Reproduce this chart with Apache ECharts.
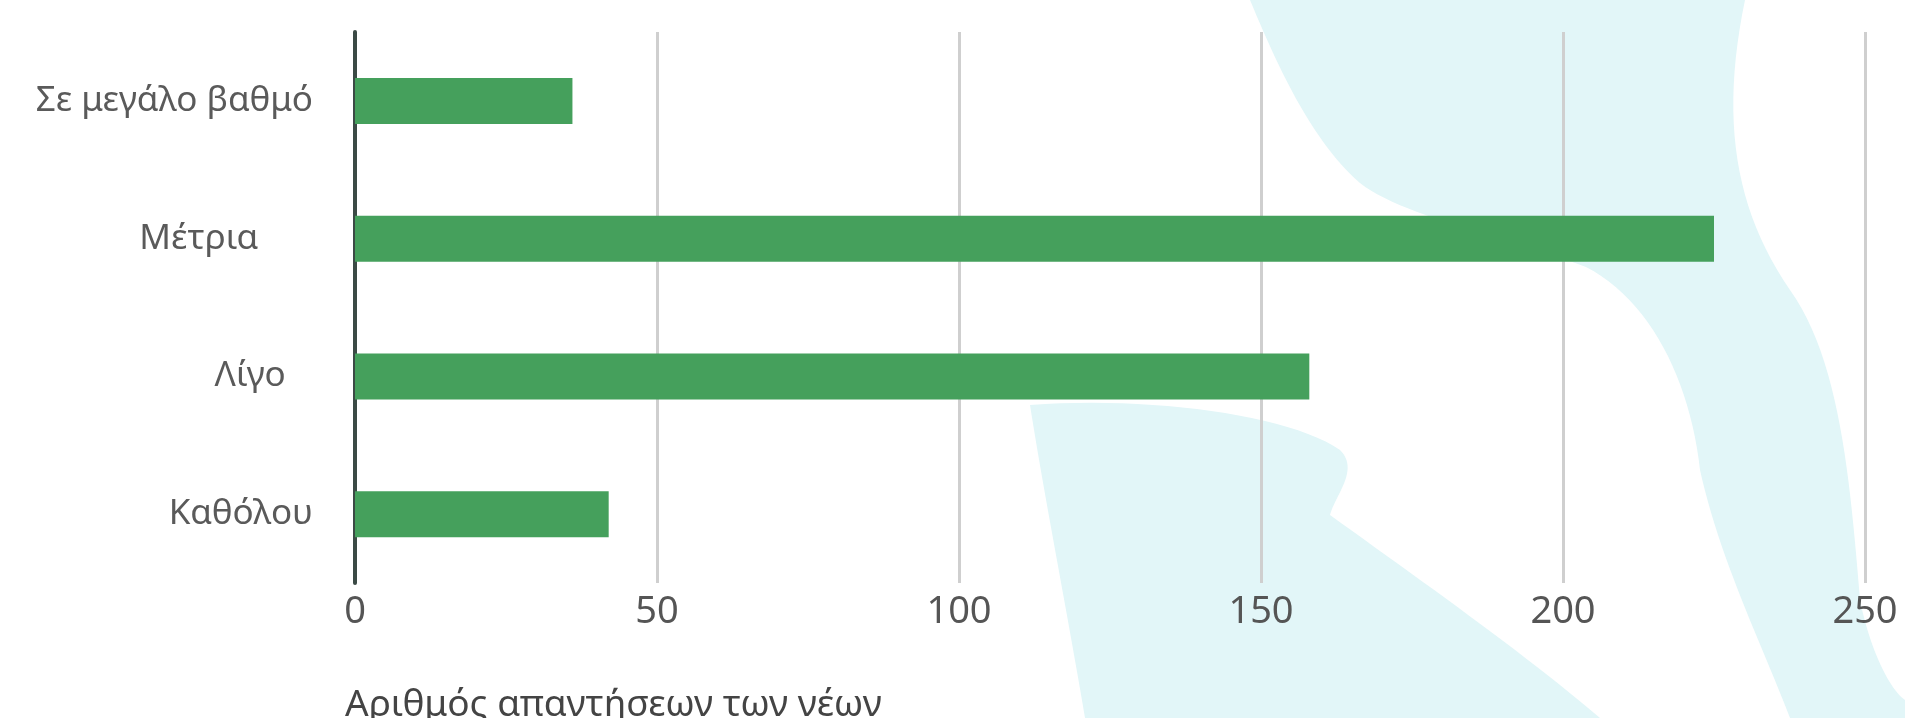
<!DOCTYPE html>
<html>
<head>
<meta charset="utf-8">
<script src="https://cdn.jsdelivr.net/npm/echarts@6/dist/echarts.min.js"></script>
<style>
  html, body { margin: 0; padding: 0; background: #ffffff; }
  #chart { width: 1905px; height: 718px; }
</style>
</head>
<body>
<div id="chart"></div>
<script>
// Answers per category (top to bottom)
const categories = ['Σε μεγάλο βαθμό', 'Μέτρια      ', 'Λίγο   ', 'Καθόλου'];
const counts = [36, 225, 158, 42];
const xTicks = [0, 50, 100, 150, 200, 250];
const axisTitle = 'Αριθμός απαντήσεων των νέων';

const FONT = 'Noto Sans';
const chart = echarts.init(document.getElementById('chart'), null, { renderer: 'canvas' });

// Soft decorative background swooshes, described as simple path commands
// and flattened to polygons.
const swoosh = '#e2f6f8';
const bgShapes = [
  [[1250, 0], ['L', 1745, 0], ['C', 1720, 120, 1735, 210, 1790, 290], ['C', 1840, 360, 1850, 480, 1860, 600],
   ['C', 1870, 650, 1890, 690, 1905, 700], ['L', 1905, 718], ['L', 1790, 718],
   ['C', 1760, 640, 1720, 560, 1700, 470], ['C', 1690, 380, 1650, 300, 1586, 267],
   ['C', 1500, 235, 1400, 215, 1360, 183], ['C', 1310, 140, 1275, 60, 1250, 0]],
  [[1030, 405], ['C', 1150, 396, 1290, 415, 1340, 450], ['C', 1360, 470, 1335, 495, 1330, 515],
   ['C', 1420, 580, 1520, 650, 1600, 718], ['L', 1085, 718], ['C', 1065, 600, 1045, 500, 1030, 405]]
];

function flatten(cmds) {
  const pts = [cmds[0].slice()];
  let [cx, cy] = cmds[0];
  for (let i = 1; i < cmds.length; i++) {
    const c = cmds[i];
    if (c[0] === 'L') {
      cx = c[1]; cy = c[2];
      pts.push([cx, cy]);
    } else {
      const [, x1, y1, x2, y2, x, y] = c;
      for (let k = 1; k <= 24; k++) {
        const t = k / 24, u = 1 - t;
        pts.push([
          u * u * u * cx + 3 * u * u * t * x1 + 3 * u * t * t * x2 + t * t * t * x,
          u * u * u * cy + 3 * u * u * t * y1 + 3 * u * t * t * y2 + t * t * t * y
        ]);
      }
      cx = x; cy = y;
    }
  }
  return pts;
}

chart.setOption({
  backgroundColor: '#ffffff',
  animation: false,
  graphic: bgShapes.map(cmds => ({
    type: 'polygon',
    silent: true,
    z: -10,
    shape: { points: flatten(cmds) },
    style: { fill: swoosh }
  })),
  title: {
    text: axisTitle,
    left: 345,
    top: 687,
    padding: 0,
    textStyle: { fontFamily: FONT, fontSize: 37, fontWeight: 'normal', color: '#444' }
  },
  grid: { left: 355, right: 40, top: 32, bottom: 135, containLabel: false },
  xAxis: {
    type: 'value',
    min: xTicks[0],
    max: xTicks[xTicks.length - 1],
    interval: xTicks[1] - xTicks[0],
    axisLine: { show: false },
    axisTick: { show: false },
    axisLabel: { fontFamily: FONT, fontSize: 38, color: '#555', margin: 10 },
    splitLine: { show: true, lineStyle: { color: '#cfcfcf', width: 3 } }
  },
  yAxis: {
    type: 'category',
    inverse: true,
    data: categories,
    axisLine: { show: true, lineStyle: { color: '#3b4a45', width: 4 } },
    axisTick: { show: false },
    axisLabel: { fontFamily: FONT, fontSize: 35, color: '#5a5a5a', margin: 42 }
  },
  series: [{
    type: 'bar',
    data: counts,
    barWidth: 46,
    itemStyle: { color: '#45a05c' }
  }]
});
</script>
</body>
</html>
